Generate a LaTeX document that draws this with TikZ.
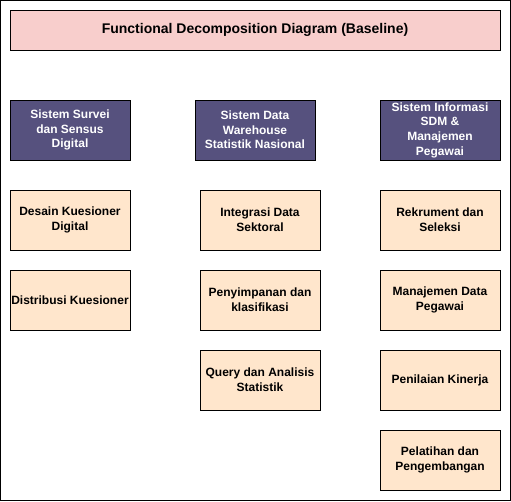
\documentclass[tikz,border=0pt]{standalone}
\usepackage{fontspec}
\setmainfont{Liberation Sans}
\definecolor{titlefill}{HTML}{F8CECC}
\definecolor{sysfill}{HTML}{56517E}
\definecolor{funcfill}{HTML}{FFE6CC}
\tikzset{
  box/.style={draw=black, line width=0.75pt, rectangle, align=center,
    minimum width=90pt, minimum height=45pt, inner xsep=0pt, inner ysep=1pt,
    font=\fontsize{9}{11}\selectfont\bfseries},
  titlebox/.style={box, fill=titlefill, minimum width=367.5pt, minimum height=30pt,
    font=\fontsize{10.5}{12.6}\selectfont\bfseries},
  sysbox/.style={box, fill=sysfill, text=white},
  funcbox/.style={box, fill=funcfill, text=black}
}
\begin{document}
\begin{tikzpicture}[x=0.75pt, y=-0.75pt]
  % page frame
  \useasboundingbox (0,0) rectangle (511,501);
  \draw[line width=0.75pt] (0.5,0.5) rectangle (510.5,500.5);

  % title
  \node[titlebox] (title) at (255,30) {Functional Decomposition Diagram (Baseline)};

  % systems
  \node[sysbox] (survei) at (70,130) {Sistem Survei\\dan Sensus\\Digital};
  \node[sysbox] (dw) at (255,130) {Sistem Data\\Warehouse\\Statistik Nasional};
  \node[sysbox] (sdm) at (440,130) {Sistem Informasi\\SDM \&\\Manajemen\\Pegawai};

  % functions: survey system
  \node[funcbox] (desain) at (70,220) {Desain Kuesioner\\Digital};
  \node[funcbox] (distribusi) at (70,300) {Distribusi Kuesioner};

  % functions: data warehouse
  \node[funcbox] (integrasi) at (260,220) {Integrasi Data\\Sektoral};
  \node[funcbox] (simpan) at (260,300) {Penyimpanan dan\\klasifikasi};
  \node[funcbox] (query) at (260,380) {Query dan Analisis\\Statistik};

  % functions: HR information system
  \node[funcbox] (rekrut) at (440,220) {Rekrument dan\\Seleksi};
  \node[funcbox] (pegawai) at (440,300) {Manajemen Data\\Pegawai};
  \node[funcbox] (kinerja) at (440,380) {Penilaian Kinerja};
  \node[funcbox] (pelatihan) at (440,460) {Pelatihan dan\\Pengembangan};
\end{tikzpicture}
\end{document}
